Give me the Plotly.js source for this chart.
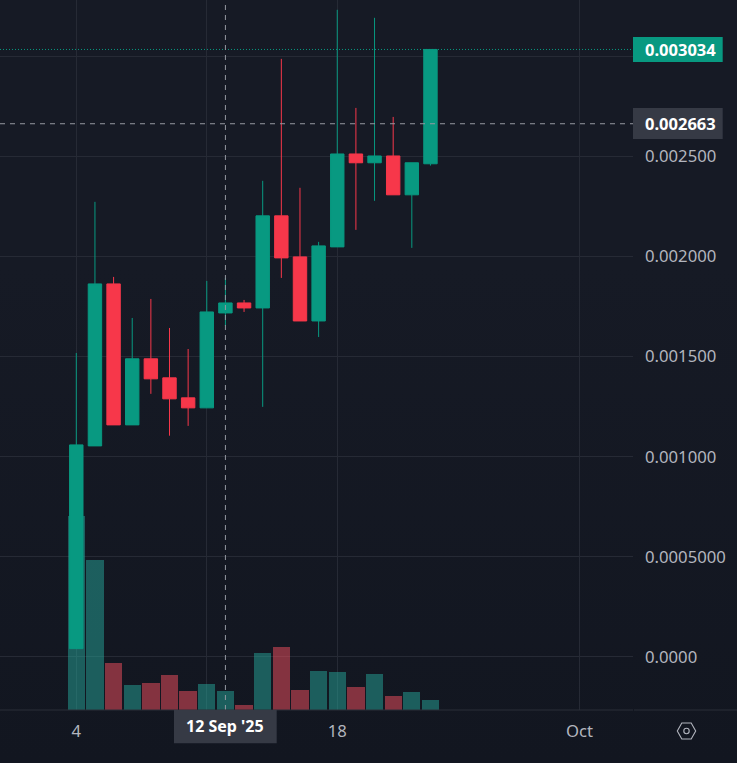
<!DOCTYPE html>
<html>
<head>
<meta charset="utf-8">
<script src="https://cdn.plot.ly/plotly-3.0.1.min.js"></script>
<style>
html,body{margin:0;padding:0;width:737px;height:763px;overflow:hidden;background:linear-gradient(180deg,#161a25 0%,#161a25 35%,#121620 100%);}
#chart{width:737px;height:763px;}
</style>
</head>
<body>
<div id="chart"></div>
<script>
var dates = ['2025-09-04','2025-09-05','2025-09-06','2025-09-07','2025-09-08','2025-09-09','2025-09-10','2025-09-11','2025-09-12','2025-09-13','2025-09-14','2025-09-15','2025-09-16','2025-09-17','2025-09-18','2025-09-19','2025-09-20','2025-09-21','2025-09-22','2025-09-23'];
var openV  = [0.0000415,0.001054,0.001863,0.001159,0.001489,0.001394,0.001294,0.001244,0.001718,0.001768,0.001743,0.002203,0.001998,0.001678,0.002048,0.002512,0.002468,0.002502,0.002308,0.002463];
var highV  = [0.001518,0.002273,0.001898,0.001693,0.001788,0.001643,0.001538,0.001878,0.001893,0.001783,0.002378,0.002987,0.002343,0.002073,0.003232,0.002742,0.003192,0.002697,0.002468,0.003034];
var lowV   = [0.0000415,0.001054,0.001159,0.001159,0.001314,0.001105,0.001154,0.001244,0.001653,0.001723,0.001249,0.001893,0.001678,0.001598,0.002048,0.002133,0.002278,0.002308,0.002043,0.002454];
var closeV = [0.001059,0.001863,0.001159,0.001489,0.001389,0.001289,0.001244,0.001723,0.001768,0.001743,0.002203,0.001993,0.001678,0.002053,0.002512,0.002468,0.002502,0.002308,0.002468,0.003034];
var volume = [194,150,47,25,27,35,19,26,19,5,57,63,20,39,38,23,36,14,18,10];
var priceTicks = [0,0.0005,0.001,0.0015,0.002,0.0025,0.003];
var priceLabels = ['0.0000','0.0005000','0.001000','0.001500','0.002000','0.002500',''];
var dateTicks = ['2025-09-04','2025-09-11','2025-09-18','2025-10-01'];
var dateLabels = ['4','','18','Oct'];
var lastPrice = 0.003034, crossPrice = 0.002663, crossDate = '2025-09-12';

var W=737,H=763,PW=633,PH=710;
var DAY=86400000, sep4=Date.UTC(2025,8,4), pxPerDay=18.64, x0=76.3;
function iso(ms){return new Date(ms).toISOString().replace('T',' ').replace('Z','');}
var xRange=[iso(sep4-x0/pxPerDay*DAY), iso(sep4+(PW-x0)/pxPerDay*DAY)];
var yRange=[-0.000265,0.003281];
function px(x){return x/PW;}
function py(y){return 1-y/PH;}

var GREEN='#089981',RED='#f7374a',GRID='#262a35',TICK='#b2b5be',CROSS='#9598a1',BOX='#363a45';
var barColors=closeV.map(function(c,i){return c>=openV[i]?'rgba(38,166,154,0.5)':'rgba(245,80,95,0.5)';});

var traces=[
 {type:'bar',x:dates,y:volume,yaxis:'y',xaxis:'x',width:0.93*DAY,marker:{color:barColors,line:{width:0}},hoverinfo:'skip',showlegend:false},
 {type:'candlestick',x:dates,open:openV,high:highV,low:lowV,close:closeV,yaxis:'y2',xaxis:'x',
  increasing:{line:{color:GREEN,width:1},fillcolor:GREEN},
  decreasing:{line:{color:RED,width:1},fillcolor:RED},whiskerwidth:0,showlegend:false}
];
function line(x0_,x1_,y0_,y1_,xr,yr,color,dash,w){return {type:'line',xref:xr,yref:yr,x0:x0_,x1:x1_,y0:y0_,y1:y1_,line:{color:color,width:w||1,dash:dash||'solid'}};}
function rect(a,b,c,d,color){return {type:'rect',xref:'paper',yref:'paper',x0:px(a),x1:px(b),y0:py(c),y1:py(d),fillcolor:color,line:{width:0}};}
var hex=[[677.3,731],[681.8,723],[691.2,723],[695.7,731],[691.2,739],[681.8,739]];
var hexPath=hex.map(function(p,i){return (i?'L':'M')+px(p[0])+','+py(p[1]);}).join(' ')+' Z';
var shapes=[
 line(0,1,lastPrice,lastPrice,'paper','y2',GREEN,'1px,2px'),
 line(0,1,crossPrice,crossPrice,'paper','y2',CROSS,'5px,5px'),
 line(crossDate,crossDate,0,1,'x','paper',CROSS,'5px,5px'),
 line(px(0),px(633),py(710),py(710),'paper','paper','#2a2e39'),
 line(px(634),px(737),py(710),py(710),'paper','paper','#2a2e39'),
 rect(633,722.7,37,62,GREEN),
 rect(633,722.7,108,139,BOX),
 rect(174,276.7,710,743.3,BOX),
 {type:'path',xref:'paper',yref:'paper',path:hexPath,line:{color:TICK,width:1.1}},
 {type:'circle',xref:'paper',yref:'paper',x0:px(683.8),x1:px(689.2),y0:py(728.3),y1:py(733.7),line:{color:TICK,width:1.1}}
];
var FONT='"Noto Sans",sans-serif';
var annotations=[
 {xref:'paper',yref:'y2',x:px(643),y:lastPrice,xanchor:'left',yanchor:'middle',text:'<b>'+lastPrice.toFixed(6)+'</b>',showarrow:false,font:{family:FONT,size:16.5,color:'#ffffff'}},
 {xref:'paper',yref:'y2',x:px(643),y:crossPrice,xanchor:'left',yanchor:'middle',text:'<b>'+crossPrice.toFixed(6)+'</b>',showarrow:false,font:{family:FONT,size:16.5,color:'#ffffff'}},
 {xref:'x',yref:'paper',x:crossDate,y:py(726),xanchor:'center',yanchor:'middle',text:"<b>12 Sep '25</b>",showarrow:false,font:{family:FONT,size:16,color:'#ffffff'}}
];
var layout={
 width:W,height:H,margin:{l:0,r:W-PW,t:0,b:H-PH,pad:0},
 paper_bgcolor:'rgba(0,0,0,0)',plot_bgcolor:'rgba(0,0,0,0)',showlegend:false,
 boxgap:0.28,boxgroupgap:0,bargap:0,
 font:{family:FONT,color:TICK,size:16.7},
 xaxis:{type:'date',range:xRange,rangeslider:{visible:false},tickmode:'array',tickvals:dateTicks,ticktext:dateLabels,
   showgrid:true,gridcolor:GRID,gridwidth:1,ticks:'',ticklen:0,ticklabelstandoff:9,zeroline:false,showline:false,automargin:false,tickfont:{family:FONT,size:16.7,color:TICK}},
 yaxis:{range:[0,PH],visible:false,fixedrange:true,showgrid:false,zeroline:false},
 yaxis2:{range:yRange,overlaying:'y',side:'right',tickmode:'array',tickvals:priceTicks,ticktext:priceLabels,
   showgrid:true,gridcolor:GRID,gridwidth:1,zeroline:false,showline:false,ticks:'',ticklabelstandoff:11,automargin:false,tickfont:{family:FONT,size:16.7,color:TICK}},
 shapes:shapes,annotations:annotations
};
Plotly.newPlot('chart',traces,layout,{displayModeBar:false,staticPlot:true});
</script>
</body>
</html>
